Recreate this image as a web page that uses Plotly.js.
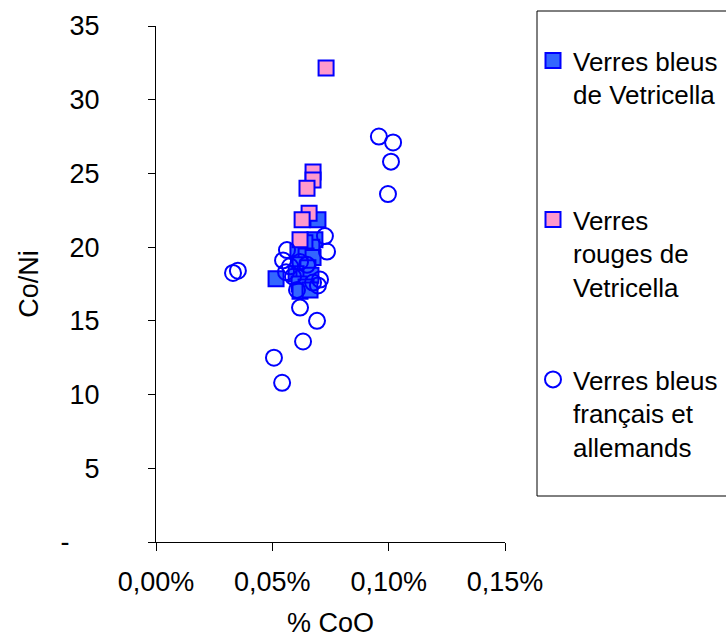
<!DOCTYPE html>
<html>
<head>
<meta charset="utf-8">
<script src="https://cdn.plot.ly/plotly-3.0.1.min.js"></script>
<style>html,body{margin:0;padding:0;background:#fff;}#chart{width:726px;height:638px;}</style>
</head>
<body>
<div id="chart"></div>
<script>
// Verres bleus de Vetricella
const bleusVetX = [0.000516,0.000696,0.000683,0.000670,0.000640,0.000610,0.000645,0.000675,0.000619,0.000653,0.000602,0.000636,0.000666,0.000615,0.000645,0.000619,0.000662];
const bleusVetY = [17.85,21.85,20.5,20.0,20.3,19.7,19.4,19.3,18.8,18.6,18.2,18.0,18.1,17.5,17.3,17.0,17.1];
// Verres rouges de Vetricella
const rougesVetX = [0.000731,0.000675,0.000675,0.000649,0.000658,0.000628,0.000619];
const rougesVetY = [32.15,25.1,24.55,24.0,22.3,21.85,20.5];
// Verres bleus français et allemands
const frAlX = [0.000331,0.000352,0.000507,0.000542,0.000632,0.000692,0.000619,0.000958,0.001019,0.001010,0.000997,0.000726,0.000735,0.000563,0.000546,0.000576,0.000559,0.000589,0.000619,0.000649,0.000675,0.000696,0.000705,0.000606];
const frAlY = [18.25,18.4,12.5,10.8,13.6,15.0,15.9,27.5,27.1,25.8,23.6,20.75,19.7,19.8,19.1,18.7,18.3,18.0,19.0,18.8,17.6,17.4,17.8,17.1];

const seriesNames = ['Verres bleus<br>de Vetricella','Verres<br>rouges de<br>Vetricella','Verres bleus<br>français et<br>allemands'];
const xTickVals = [0,0.0005,0.001,0.0015];
const xTickText = ['0,00%','0,05%','0,10%','0,15%'];
const yTickVals = [0,5,10,15,20,25,30,35];
const yTickText = ['-\u00A0\u00A0\u00A0\u00A0','5','10','15','20','25','30','35'];

const FONT = 'Liberation Sans, Arial, sans-serif';
const traces = [
  {x: bleusVetX, y: bleusVetY, name: seriesNames[0], type:'scatter', mode:'markers', legend:'legend',
   marker:{symbol:'square', size:15, color:'#3366FF', line:{color:'#0000FF', width:2}}},
  {x: rougesVetX, y: rougesVetY, name: seriesNames[1], type:'scatter', mode:'markers', legend:'legend2',
   marker:{symbol:'square', size:15, color:'#FF99CC', line:{color:'#0000FF', width:2}}},
  {x: frAlX, y: frAlY, name: seriesNames[2], type:'scatter', mode:'markers', legend:'legend3',
   marker:{symbol:'circle-open', size:16, color:'#0000FF', line:{color:'#0000FF', width:2}}}
];

const W = 726, H = 638, L = 156, R = 221, T = 26, B = 96;
const pw = W - L - R, ph = H - T - B;
const px = v => (v - L) / pw;
const py = v => (H - B - v) / ph;

const legendBase = {xanchor:'left', yanchor:'top', bgcolor:'rgba(0,0,0,0)', borderwidth:0,
  font:{family:FONT, size:26, color:'#000'}, valign:'top', itemclick:false, itemdoubleclick:false};

const layout = {
  width: W, height: H,
  margin:{l:L, r:R, t:T, b:B, autoexpand:false},
  paper_bgcolor:'#fff', plot_bgcolor:'#fff',
  font:{family:FONT, size:27, color:'#000'},
  showlegend:true,
  xaxis:{range:[0,0.0015], tickvals:xTickVals, ticktext:xTickText, showgrid:false, zeroline:false,
    showline:true, linecolor:'#000', linewidth:1, ticks:'outside', ticklen:8, tickcolor:'#000', tickwidth:1,
    ticklabelstandoff:8, tickfont:{family:FONT, size:27, color:'#000'},
    title:{text:'% CoO', font:{family:FONT, size:27, color:'#000'}, standoff:24}},
  yaxis:{range:[0,35], tickvals:yTickVals, ticktext:yTickText, showgrid:false, zeroline:false,
    showline:true, linecolor:'#000', linewidth:1, ticks:'outside', ticklen:7, tickcolor:'#000', tickwidth:1,
    ticklabelstandoff:43, tickfont:{family:FONT, size:27, color:'#000'},
    title:{text:'Co/Ni', font:{family:FONT, size:27, color:'#000'}, standoff:14}},
  legend:Object.assign({}, legendBase, {x:px(533), y:py(37)}),
  legend2:Object.assign({}, legendBase, {x:px(533), y:py(196)}),
  legend3:Object.assign({}, legendBase, {x:px(533), y:py(356)}),
  shapes:[{type:'rect', xref:'paper', yref:'paper', x0:px(537), x1:px(760), y0:py(496), y1:py(11),
    line:{color:'#000', width:1}, fillcolor:'rgba(0,0,0,0)'}]
};

Plotly.newPlot('chart', traces, layout, {staticPlot:true, displayModeBar:false});
</script>
</body>
</html>
